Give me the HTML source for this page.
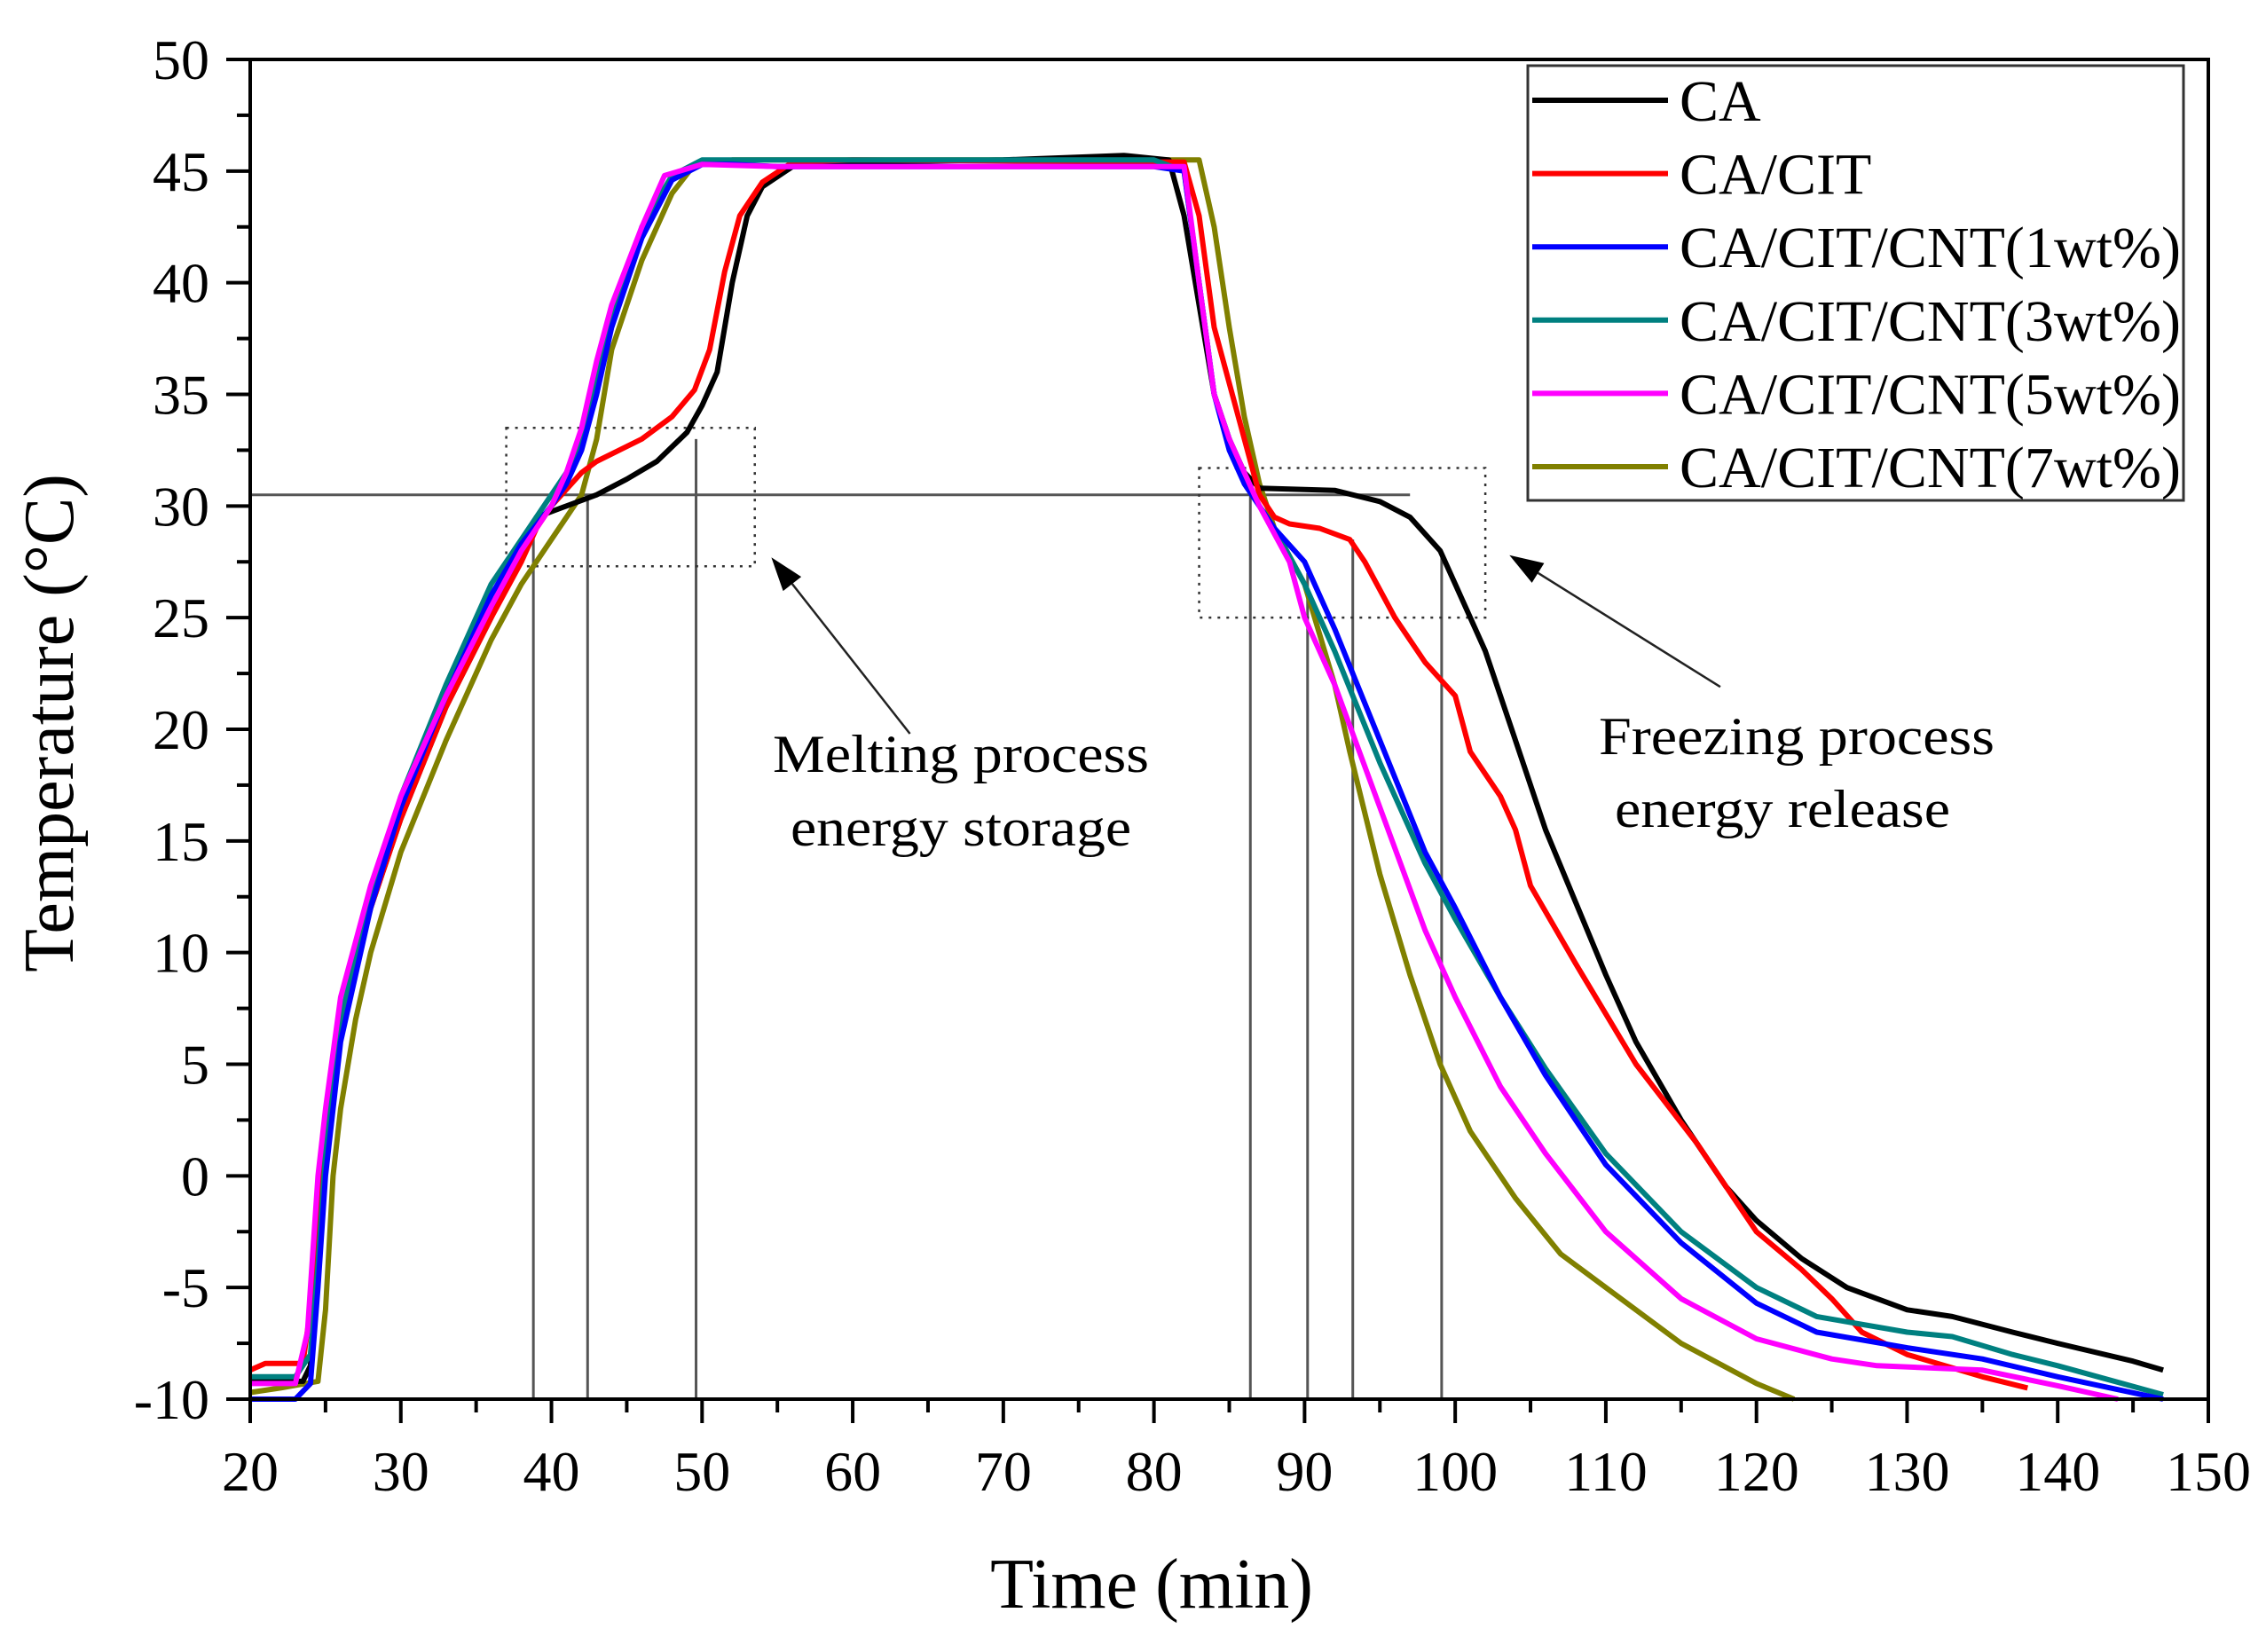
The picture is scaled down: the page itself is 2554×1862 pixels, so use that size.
<!DOCTYPE html>
<html><head><meta charset="utf-8"><style>
html,body{margin:0;padding:0;background:#fff;}
svg{display:block;font-family:"Liberation Serif",serif;}
</style></head><body>
<svg id="chart" width="2554" height="1862" viewBox="0 0 2554 1862" xmlns="http://www.w3.org/2000/svg">
<rect x="0" y="0" width="2554" height="1862" fill="#fff"/>
<g id="annot"></g>
<g id="series"></g>
<g id="axes"></g>
<g id="legend"></g>
</svg>
<script>
const xTicks=[20,30,40,50,60,70,80,90,100,110,120,130,140,150];
const yTicks=[-10,-5,0,5,10,15,20,25,30,35,40,45,50];
const seriesNames=["CA","CA/CIT","CA/CIT/CNT(1wt%)","CA/CIT/CNT(3wt%)","CA/CIT/CNT(5wt%)","CA/CIT/CNT(7wt%)"];
const seriesColors=["#000000","#ff0000","#0000ff","#008080","#ff00ff","#808000"];
const caX=[20,23.5,24,25,26,28,30,33,36,38,39,41,43,45,47,49,50,51,52,53,54,56,60,70,78,81,82,83,84,85,86,87,92,95,97,99,100,102,104,106,110,112,115,118,120,123,126,130,133,137,140,145,147];
const caY=[-9.2,-9.2,-8.5,2,7,12,16,21,25,28,29.5,30,30.5,31.2,32,33.3,34.5,36,40,43,44.3,45.2,45.4,45.5,45.7,45.5,43,39,35,33,31.5,30.8,30.7,30.2,29.5,28,26.5,23.5,19.5,15.5,9,6,2.5,-0.5,-2,-3.7,-5,-6,-6.3,-7,-7.5,-8.3,-8.7];
const citX=[20,21,23.5,24.2,25,26,28,30,33,36,38,39,40,42,43,46,48,49.5,50.5,51.5,52.5,54,56,60,82,83,84,86,87,88,89,91,93,94,96,98,100,101,103,104,105,108,112,116,120,123,125,127,130,135,138];
const citY=[-8.7,-8.4,-8.4,-5,2,7,12,16,21,25,27.5,29,30,31.5,32,33,34,35.2,37,40.5,43,44.5,45.4,45.5,45.4,43,38,33,30.5,29.5,29.2,29,28.5,27.5,25,23,21.5,19,17,15.5,13,9.5,5,1.5,-2.5,-4.2,-5.5,-7,-8,-9,-9.5];
const c1X=[20,23,24,24.5,25,26,28,30,33,36,38,40,41,42,43,44,46,48,50,52,55,80,82,83,84,85,86,88,90,92,95,98,100,103,106,110,115,120,124,130,135,140,147];
const c1Y=[-10,-10,-9.3,-5,0,6,12,16.5,21.5,26,28.3,30,31,32.5,35,38,42,44.6,45.3,45.3,45.2,45.2,45,40,35,32.5,31,29,27.5,24.5,19.5,14.5,12,8,4.5,0.5,-3,-5.7,-7,-7.7,-8.2,-9,-10];
const c3X=[20,23,24,24.5,25,26,28,30,33,36,38,40,41,42,43,44,46,48,50,80,82,83,84,85,86,88,90,92,95,98,100,103,106,110,115,120,124,130,133,137,140,147];
const c3Y=[-9,-9,-8,-4,1,7,12.5,17,22,26.5,28.5,30.5,31.5,33,35.5,38.5,42.5,44.8,45.5,45.5,45,40,35,33,31,29,26.5,23.5,18.5,14,11.5,8,4.8,1,-2.5,-5,-6.3,-7,-7.2,-8,-8.5,-9.8];
const c5X=[20,23,23.8,24.5,25,26,28,30,33,36,38,40,41,42,43,44,46,47.5,50,55,82,83,84,85,86,87,89,90,92,95,98,100,103,106,110,115,120,125,128,135,140,144];
const c5Y=[-9.3,-9.3,-7,0,3,8,13,17,21.5,25.5,28,30,31.5,33.5,36.5,39,42.5,44.8,45.3,45.2,45.2,40,35,33,31.5,30,27.5,25,22,16.5,11,8,4,1,-2.5,-5.5,-7.3,-8.2,-8.5,-8.7,-9.4,-10];
const c7X=[20,22,24.5,25,25.5,26,27,28,30,33,36,38,40,42,43,44,46,48,49.5,52,83,84,85,86,87,88,90,92,93,95,97,99,101,104,107,110,115,120,122.5];
const c7Y=[-9.7,-9.5,-9.2,-6,0,3,7,10,14.5,19.5,24,26.5,28.5,30.5,33,37,41,44,45.3,45.5,45.5,42.5,38,34,31,29,26.5,22,19,13.5,9,5,2,-1,-3.5,-5,-7.5,-9.3,-10];
const allX=[caX,citX,c1X,c3X,c5X,c7X];
const allY=[caY,citY,c1Y,c3Y,c5Y,c7Y];
const dropX=[38.8,42.4,49.6,86.4,90.2,93.2,99.1];
const dropY=[29,30.5,33,31,27,28.5,28];

const L=282,R=2489,T=67,B=1577,X0=20,X1=150,Y0=-10,Y1=50;
function sx(v){return L+(v-X0)/(X1-X0)*(R-L);}
function sy(v){return B-(v-Y0)/(Y1-Y0)*(B-T);}
const NS="http://www.w3.org/2000/svg";
function mk(tag,attrs,parent){const e=document.createElementNS(NS,tag);for(const k in attrs)e.setAttribute(k,attrs[k]);parent.appendChild(e);return e;}
const annot=document.getElementById('annot'),sg=document.getElementById('series'),ax=document.getElementById('axes'),lg=document.getElementById('legend');

let hl=mk('line',{x1:sx(20),y1:sy(30.5),x2:sx(97),y2:sy(30.5),stroke:'#555','stroke-width':3},annot);


for(let i=0;i<dropX.length;i++){
  const d=mk('line',{x1:sx(dropX[i]),y1:sy(Y0),x2:sx(dropX[i]),y2:sy(dropY[i]),stroke:'#555','stroke-width':3},annot);
  
  
}
let b1=mk('rect',{x:sx(37),y:sy(33.5),width:sx(53.5)-sx(37),height:sy(27.3)-sy(33.5),fill:'none',stroke:'#333','stroke-width':2.5,'stroke-dasharray':'3 7'},annot);


let b2=mk('rect',{x:sx(83),y:sy(31.7),width:sx(102)-sx(83),height:sy(25)-sy(31.7),fill:'none',stroke:'#333','stroke-width':2.5,'stroke-dasharray':'3 7'},annot);


function arrow(x1,y1,x2,y2,name){
  const g=mk('g',{},annot);
  
  
  const ax1=sx(x1),ay1=sy(y1),ax2=sx(x2),ay2=sy(y2);
  const a=Math.atan2(ay2-ay1,ax2-ax1),len=38,w=13;
  const bx=ax2-len*Math.cos(a),by=ay2-len*Math.sin(a);
  mk('line',{x1:ax1,y1:ay1,x2:bx,y2:by,stroke:'#222','stroke-width':2.5},g);
  mk('polygon',{points:`${ax2},${ay2} ${bx+w*Math.sin(a)},${by-w*Math.cos(a)} ${bx-w*Math.sin(a)},${by+w*Math.cos(a)}`,fill:'#000'},g);
}
arrow(63.8,19.8,54.6,27.7,'melting-arrow');
arrow(117.6,21.9,103.6,27.8,'freezing-arrow');
function txt(x,y,s,size,anchor,name,parent,tl){const t=mk('text',{x:x,y:y,'font-size':size,'text-anchor':anchor||'middle',fill:'#000'},parent||annot);t.textContent=s;if(tl){t.setAttribute('textLength',tl);t.setAttribute('lengthAdjust','spacingAndGlyphs');}return t;}
txt(1083,870,'Melting process',60,'middle','melting-label-line1',annot,424);
txt(1083,953,'energy storage',60,'middle','melting-label-line2',annot,384);
txt(2025,850,'Freezing process',60,'middle','freezing-label-line1',annot,446);
txt(2009,932,'energy release',60,'middle','freezing-label-line2',annot,378);

const order=[5,0,1,3,2,4];
for(const i of order){
  const xs=allX[i],ys=allY[i];
  let d='';
  for(let j=0;j<xs.length;j++)d+=(j?'L':'M')+sx(xs[j]).toFixed(1)+','+sy(ys[j]).toFixed(1);
  const p=mk('path',{d:d,fill:'none',stroke:seriesColors[i],'stroke-width':6,'stroke-linejoin':'round'},sg);
  
  
}

const fr=mk('rect',{x:L,y:T,width:R-L,height:B-T,fill:'none',stroke:'#000','stroke-width':4},ax);


for(let i=0;i<xTicks.length;i++){
  const v=xTicks[i];
  const t=mk('line',{x1:sx(v),y1:B,x2:sx(v),y2:B+27,stroke:'#000','stroke-width':4},ax);
  
  
  if(i<xTicks.length-1){
    const m=mk('line',{x1:sx(v+5),y1:B,x2:sx(v+5),y2:B+15,stroke:'#000','stroke-width':4},ax);
    
    
  }
  txt(sx(v),1680,String(v),64,'middle','x-tick-label',ax);
}
for(let i=0;i<yTicks.length;i++){
  const v=yTicks[i];
  const t=mk('line',{x1:L-27,y1:sy(v),x2:L,y2:sy(v),stroke:'#000','stroke-width':4},ax);
  
  
  if(i<yTicks.length-1){
    const m=mk('line',{x1:L-15,y1:sy(v+2.5),x2:L,y2:sy(v+2.5),stroke:'#000','stroke-width':4},ax);
    
    
  }
  txt(236,sy(v)+22,String(v),64,'end','y-tick-label',ax);
}
txt(1298,1812,'Time (min)',80,'middle','x-axis-title',ax);
const yt=txt(0,0,'Temperature (°C)',80,'middle','y-axis-title',ax);
yt.setAttribute('transform','translate(82,815) rotate(-90)');

const lb=mk('rect',{x:1722,y:74,width:739,height:490,fill:'#fff',stroke:'#333','stroke-width':3},lg);


for(let i=0;i<seriesNames.length;i++){
  const y=113+i*82.6;
  const g=mk('g',{},lg);
  
  
  mk('line',{x1:1727,y1:y,x2:1880,y2:y,stroke:seriesColors[i],'stroke-width':6},g);
  const t=mk('text',{x:1893,y:y+23,'font-size':66,fill:'#000'},g);
  t.textContent=seriesNames[i];
  if(seriesNames[i].length>10){t.setAttribute('textLength','565');t.setAttribute('lengthAdjust','spacingAndGlyphs');}
}
</script>
</body></html>
